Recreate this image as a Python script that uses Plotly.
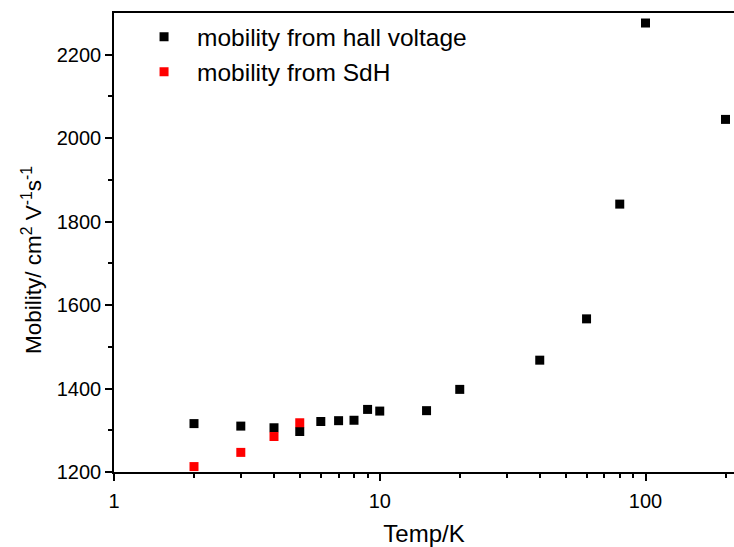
import plotly.graph_objects as go

# Data
temp_hall = [2, 3, 4, 5, 6, 7, 8, 9, 10, 15, 20, 40, 60, 80, 100, 200]
mobility_hall = [1316, 1310, 1306, 1297, 1321, 1323, 1324, 1350, 1346, 1347,
                 1398, 1468, 1567, 1842, 2276, 2045]

temp_sdh = [2, 3, 4, 5]
mobility_sdh = [1213, 1247, 1285, 1318]

x_major = [1, 10, 100]
x_minor = [2, 3, 4, 5, 6, 7, 8, 9, 20, 30, 40, 50, 60, 70, 80, 90, 200]
y_major = [1200, 1400, 1600, 1800, 2000, 2200]
y_minor = [1300, 1500, 1700, 1900, 2100]

y_title = "Mobility/ cm<sup>2</sup> V<sup>-1</sup>s<sup>-1</sup>"
x_title = "Temp/K"

font_family = "Arial, Liberation Sans, sans-serif"

fig = go.Figure()
fig.add_trace(go.Scatter(
    x=temp_hall, y=mobility_hall, mode="markers",
    name="mobility from hall voltage",
    marker=dict(symbol="square", size=9, color="#000000", line=dict(width=0)),
))
fig.add_trace(go.Scatter(
    x=temp_sdh, y=mobility_sdh, mode="markers",
    name="mobility from SdH",
    marker=dict(symbol="square", size=9, color="#ff0000", line=dict(width=0)),
))

fig.update_layout(
    width=734, height=547,
    margin=dict(l=114, r=0, t=13, b=75),
    paper_bgcolor="white", plot_bgcolor="white",
    font=dict(family=font_family, color="#000000"),
    showlegend=True,
    legend=dict(
        x=0.0275, y=0.997, xanchor="left", yanchor="top",
        bgcolor="rgba(0,0,0,0)", borderwidth=0,
        font=dict(size=24.5, family=font_family, color="#000000"),
        itemwidth=56, tracegroupgap=0,
    ),
    xaxis=dict(
        type="log", range=[0, 2.333],
        tickvals=x_major, ticktext=[str(v) for v in x_major],
        ticks="outside", ticklen=7, tickwidth=1.5, tickcolor="#000000",
        minor=dict(tickvals=x_minor, ticks="outside", ticklen=4, tickwidth=1.5,
                   tickcolor="#000000"),
        showline=True, linecolor="#000000", linewidth=1.5, mirror=True,
        showgrid=False, zeroline=False,
        ticklabelstandoff=3,
        tickfont=dict(size=20, family=font_family, color="#000000"),
        title=dict(text=x_title, font=dict(size=24, family=font_family, color="#000000"),
                   standoff=16),
    ),
    yaxis=dict(
        range=[1200, 2300],
        tickvals=y_major, ticktext=[str(v) for v in y_major],
        ticks="outside", ticklen=7, tickwidth=1.5, tickcolor="#000000",
        minor=dict(tickvals=y_minor, ticks="outside", ticklen=4, tickwidth=1.5,
                   tickcolor="#000000"),
        showline=True, linecolor="#000000", linewidth=1.5, mirror=False,
        showgrid=False, zeroline=False,
        tickfont=dict(size=20, family=font_family, color="#000000"),
    ),
    annotations=[dict(
        text=y_title, textangle=-90,
        xref="paper", yref="paper",
        x=(32 - 114) / 620, y=(472 - 260) / 459,
        xanchor="center", yanchor="middle", showarrow=False,
        font=dict(size=22.5, family=font_family, color="#000000"),
    )],
)

fig.write_html("out.html")
